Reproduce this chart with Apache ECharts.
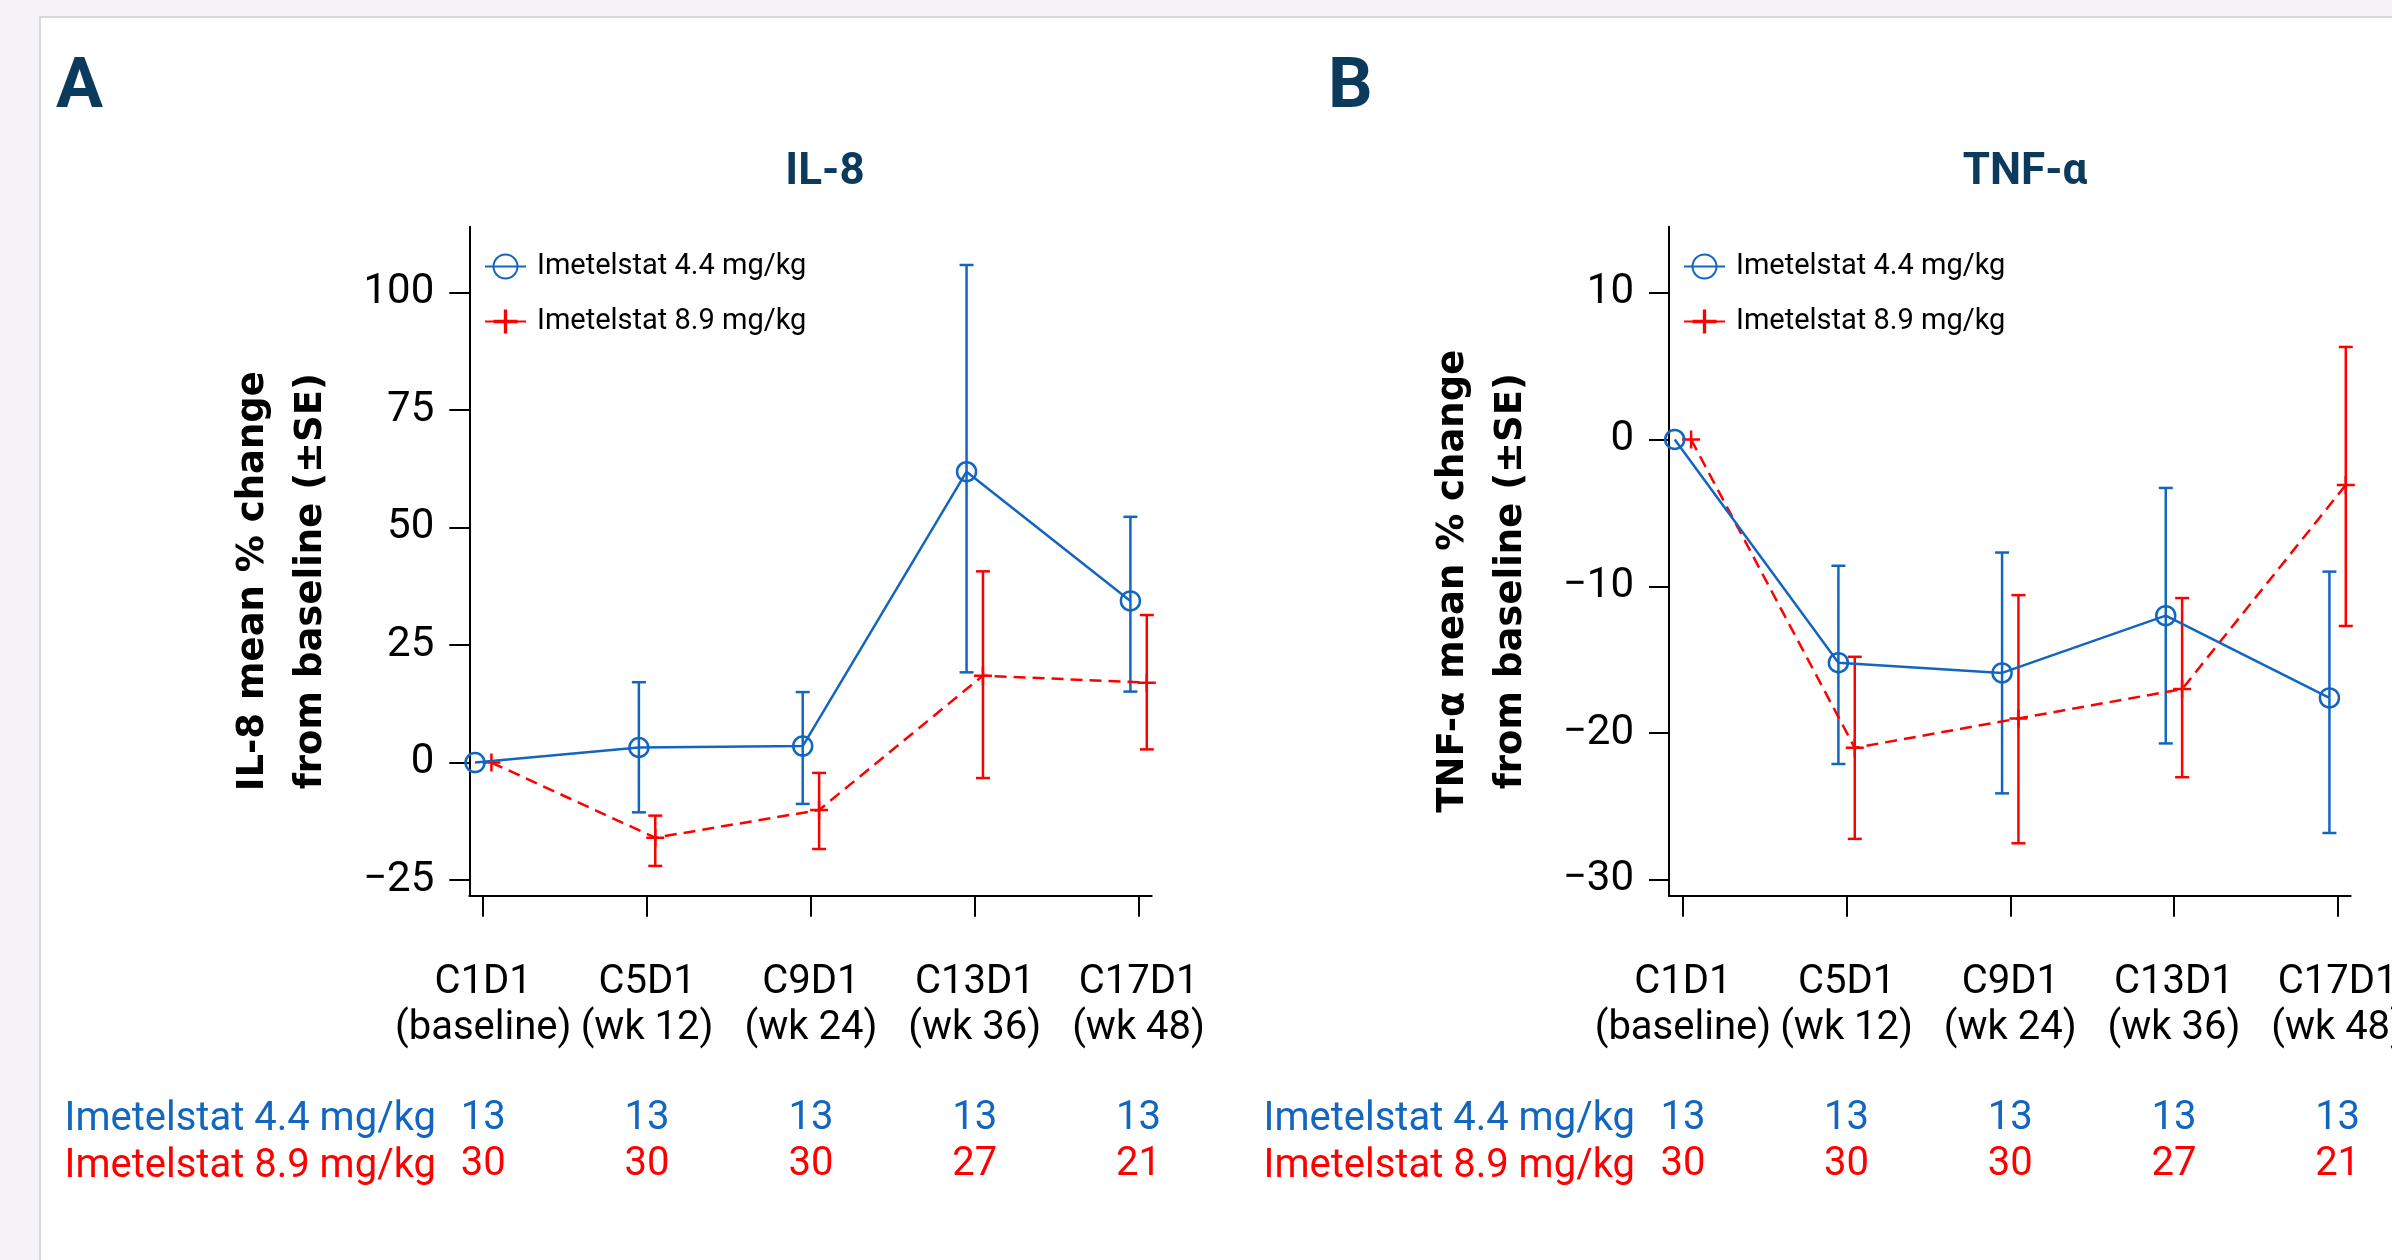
<!DOCTYPE html>
<html><head><meta charset="utf-8">
<script src="https://cdn.jsdelivr.net/npm/echarts@6/dist/echarts.min.js"></script>
<style>
html,body{margin:0;padding:0;width:2392px;height:1260px;overflow:hidden;background:#f6f3f8;}
#card{position:absolute;left:39px;top:16px;width:2400px;height:1300px;background:#fff;border-left:2px solid #d8d8dc;border-top:2px solid #d8d8dc;}
#chart{position:absolute;left:0;top:0;width:2392px;height:1260px;}
</style></head><body><div id="card"></div><div id="chart"></div>
<script>
// ---------- data ----------
const visitCodes = ['C1D1', 'C5D1', 'C9D1', 'C13D1', 'C17D1'];
const visitWeeks = ['(baseline)', '(wk 12)', '(wk 24)', '(wk 36)', '(wk 48)'];
const seriesNames = ['Imetelstat 4.4 mg/kg', 'Imetelstat 8.9 mg/kg'];
const nLow = [13, 13, 13, 13, 13];
const nHigh = [30, 30, 30, 27, 21];

const il8LowMean  = [0, 3.2, 3.5, 61.9, 34.4];
const il8LowUpper = [0, 17.1, 15.0, 105.9, 52.3];
const il8LowLower = [0, -10.6, -8.8, 19.2, 15.1];
const il8HighMean  = [0, -16.0, -10.1, 18.5, 17.0];
const il8HighUpper = [0, -11.3, -2.2, 40.7, 31.4];
const il8HighLower = [0, -22.0, -18.4, -3.3, 2.8];

const tnfLowMean  = [0, -15.2, -15.9, -12.0, -17.6];
const tnfLowUpper = [0, -8.6, -7.7, -3.3, -9.0];
const tnfLowLower = [0, -22.1, -24.1, -20.7, -26.8];
const tnfHighMean  = [0, -21.0, -19.0, -17.0, -3.1];
const tnfHighUpper = [0, -14.8, -10.6, -10.8, 6.3];
const tnfHighLower = [0, -27.2, -27.5, -23.0, -12.7];

const il8Ticks = [-25, 0, 25, 50, 75, 100];
const tnfTicks = [-30, -20, -10, 0, 10];
const catTicks = [0, 1, 2, 3, 4];

// ---------- styling ----------
const BLUE = '#1366c0';
const RED = '#ff0000';
const NAVY = '#0c3a5c';
const FONT = 'Roboto';
const OFF = 0.05;
const PLUS = 'path://M7.75,0h2.5v7.75h7.75v2.5h-7.75v7.75h-2.5v-7.75h-7.75v-2.5h7.75z';

function pts(arr, off) { return arr.map((v, i) => [i + off, v]); }
function bars(lo, hi, off) { return lo.map((v, i) => [i + off, v, hi[i]]); }
const minus = v => String(v).replace('-', '\u2212');

function errRender(color) {
  return function (params, api) {
    const x = api.value(0), lo = api.value(1), hi = api.value(2);
    if (lo === hi) return null;
    const a = api.coord([x, hi]), b = api.coord([x, lo]);
    const st = { stroke: color, lineWidth: 2.5 };
    return { type: 'group', children: [
      { type: 'line', shape: { x1: a[0], y1: a[1], x2: b[0], y2: b[1] }, style: st },
      { type: 'line', shape: { x1: a[0] - 7, y1: a[1], x2: a[0] + 7, y2: a[1] }, style: st },
      { type: 'line', shape: { x1: b[0] - 7, y1: b[1], x2: b[0] + 7, y2: b[1] }, style: st }
    ]};
  };
}

function xAxisDef(gi) {
  return {
    type: 'value', gridIndex: gi, min: -0.085, max: 4.08,
    axisLine: { show: true, onZero: false, lineStyle: { color: '#000', width: 2 } },
    axisTick: { show: true, length: 21, lineStyle: { color: '#000', width: 2 }, customValues: catTicks },
    splitLine: { show: false },
    axisLabel: {
      customValues: catTicks, margin: 64,
      formatter: v => {
        const i = Math.round(v);
        return '{c|' + visitCodes[i] + '}\n{c|' + visitWeeks[i] + '}\n{s| }\n{b|' + nLow[i] + '}\n{r|' + nHigh[i] + '}';
      },
      rich: {
        c: { fontFamily: FONT, fontSize: 40, color: '#000', lineHeight: 46 },
        s: { fontSize: 10, lineHeight: 44 },
        b: { fontFamily: FONT, fontSize: 40, color: BLUE, lineHeight: 46 },
        r: { fontFamily: FONT, fontSize: 40, color: RED, lineHeight: 46 }
      }
    }
  };
}

function yAxisDef(gi, min, max, ticks, name) {
  return {
    type: 'value', gridIndex: gi, min: min, max: max,
    name: name, nameLocation: 'middle', nameGap: 129,
    nameTextStyle: { fontFamily: 'DejaVu Sans', fontWeight: 'bold', fontSize: 37, lineHeight: 58, color: '#000', padding: [0, 40, 0, 0] },
    axisLine: { show: true, onZero: false, lineStyle: { color: '#000', width: 2 } },
    axisTick: { show: true, length: 20, lineStyle: { color: '#000', width: 2 }, customValues: ticks },
    splitLine: { show: false },
    axisLabel: { customValues: ticks, margin: 35, fontFamily: FONT, fontSize: 42, color: '#000', padding: [14, 0, 0, 0], formatter: minus }
  };
}

function panelSeries(gi, lowMean, lowLo, lowHi, highMean, highLo, highHi) {
  return [
    { type: 'custom', name: 'err-low-' + gi, xAxisIndex: gi, yAxisIndex: gi, renderItem: errRender(BLUE),
      data: bars(lowLo, lowHi, -OFF), encode: { x: 0, y: [1, 2] }, z: 2, silent: true },
    { type: 'custom', name: 'err-high-' + gi, xAxisIndex: gi, yAxisIndex: gi, renderItem: errRender(RED),
      data: bars(highLo, highHi, OFF), encode: { x: 0, y: [1, 2] }, z: 2, silent: true },
    { type: 'line', name: seriesNames[1], xAxisIndex: gi, yAxisIndex: gi, data: pts(highMean, OFF),
      symbol: PLUS, symbolSize: 18, itemStyle: { color: RED, borderWidth: 0 },
      lineStyle: { color: RED, width: 2.5, type: [12, 7] }, z: 3 },
    { type: 'line', name: seriesNames[0], xAxisIndex: gi, yAxisIndex: gi, data: pts(lowMean, -OFF),
      symbol: 'circle', symbolSize: 19, itemStyle: { color: 'rgba(255,255,255,0)', borderColor: BLUE, borderWidth: 2.5 },
      lineStyle: { color: BLUE, width: 2.5 }, z: 4 }
  ];
}

function legendDef(left) {
  return {
    left: left, top: 252, orient: 'vertical', padding: 0,
    itemWidth: 41, itemHeight: 30, itemGap: 26, data: seriesNames, selectedMode: false,
    lineStyle: { type: 'solid' },
    textStyle: { fontFamily: FONT, fontSize: 29, color: '#000', lineHeight: 20, padding: [0, 0, 0, 6] }
  };
}

function txt(x, y, text, size, color, weight, align) {
  return { type: 'text', x: x, y: y, silent: true,
    style: { text: text, fontFamily: FONT, fontSize: size, fontWeight: weight, fill: color, align: align, verticalAlign: 'middle' } };
}

const chart = echarts.init(document.getElementById('chart'), null, { renderer: 'canvas' });
chart.setOption({
  animation: false,
  backgroundColor: 'transparent',
  grid: [
    { left: 469.3, top: 226.7, width: 682.4, height: 669, containLabel: false, outerBoundsMode: 'none' },
    { left: 1669, top: 226.7, width: 681.7, height: 669, containLabel: false, outerBoundsMode: 'none' }
  ],
  xAxis: [xAxisDef(0), xAxisDef(1)],
  yAxis: [
    yAxisDef(0, -28.34, 114.05, il8Ticks, 'IL-8 mean % change\nfrom baseline (\u00b1SE)'),
    yAxisDef(1, -31.07, 14.49, tnfTicks, 'TNF-\u03b1 mean % change\nfrom baseline (\u00b1SE)')
  ],
  legend: [legendDef(484), legendDef(1683)],
  series: [].concat(
    panelSeries(0, il8LowMean, il8LowLower, il8LowUpper, il8HighMean, il8HighLower, il8HighUpper),
    panelSeries(1, tnfLowMean, tnfLowLower, tnfLowUpper, tnfHighMean, tnfHighLower, tnfHighUpper)
  ),
  graphic: [
    txt(56, 89, 'A', 70, NAVY, 'bold', 'left'),
    txt(1328, 89, 'B', 70, NAVY, 'bold', 'left'),
    txt(825, 173, 'IL-8', 44, NAVY, 'bold', 'center'),
    txt(2025, 173, 'TNF-\u03b1', 44, NAVY, 'bold', 'center'),
    txt(436, 1120, seriesNames[0], 40, BLUE, 'normal', 'right'),
    txt(436, 1167, seriesNames[1], 40, RED, 'normal', 'right'),
    txt(1635, 1120, seriesNames[0], 40, BLUE, 'normal', 'right'),
    txt(1635, 1167, seriesNames[1], 40, RED, 'normal', 'right')
  ]
});
</script></body></html>
